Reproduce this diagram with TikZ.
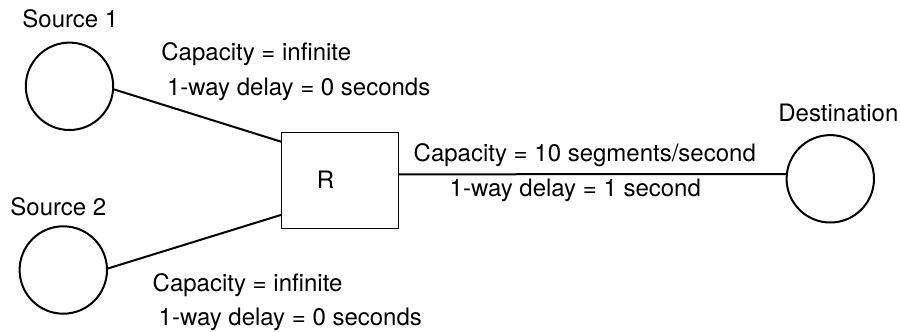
\documentclass[tikz,border=0pt]{standalone}
\usepackage{fontspec}
\setmainfont{TeX Gyre Heros}
\usetikzlibrary{positioning}
\tikzset{
  host/.style={draw, circle, line width=1pt, minimum size=43.7pt, inner sep=0pt},
  router/.style={draw, rectangle, line width=0.6pt, minimum width=58.3pt, minimum height=48pt, inner sep=0pt},
  txt/.style={anchor=base west, inner sep=0pt},
  link/.style={line width=1pt}
}
\begin{document}
\begin{tikzpicture}[x=0.5pt, y=-0.5pt, font=\fontsize{12}{14}\selectfont]
\useasboundingbox (0,0) rectangle (900,332);
% hosts and router
\node[host] (src1) at (69.5,86.3) {};
\node[host] (src2) at (63.3,270) {};
\node[host] (dest) at (830.3,178.8) {};
\node[router, label={[xshift=-7.2pt, yshift=0.5pt]center:R}] (R) at (340,180.3) {};
% names
\node[txt] (src1name) at (22,27.7) {Source 1};
\node[txt] (src2name) at (10,215) {Source 2};
\node[txt] (destname) at (778,121) {Destination};
% links
\draw[link] (src1.-4) -- ([yshift=-5pt]R.north west);
\draw[link] (src2.2) -- ([yshift=7pt]R.south west);
\draw[link] ([yshift=3pt]R.east) -- (dest.174);
% link labels
\node[txt] (cap1)   at (161,61)    {Capacity = infinite};
\node[txt] (delay1) at (166.7,95)  {1-way delay = 0 seconds};
\node[txt] (cap2)   at (152.3,291) {Capacity = infinite};
\node[txt] (delay2) at (158.3,325) {1-way delay = 0 seconds};
\node[txt] (cap3)   at (413.3,161.7) {Capacity = 10 segments/second};
\node[txt] (delay3) at (449.3,196.7) {1-way delay = 1 second};
\end{tikzpicture}
\end{document}
